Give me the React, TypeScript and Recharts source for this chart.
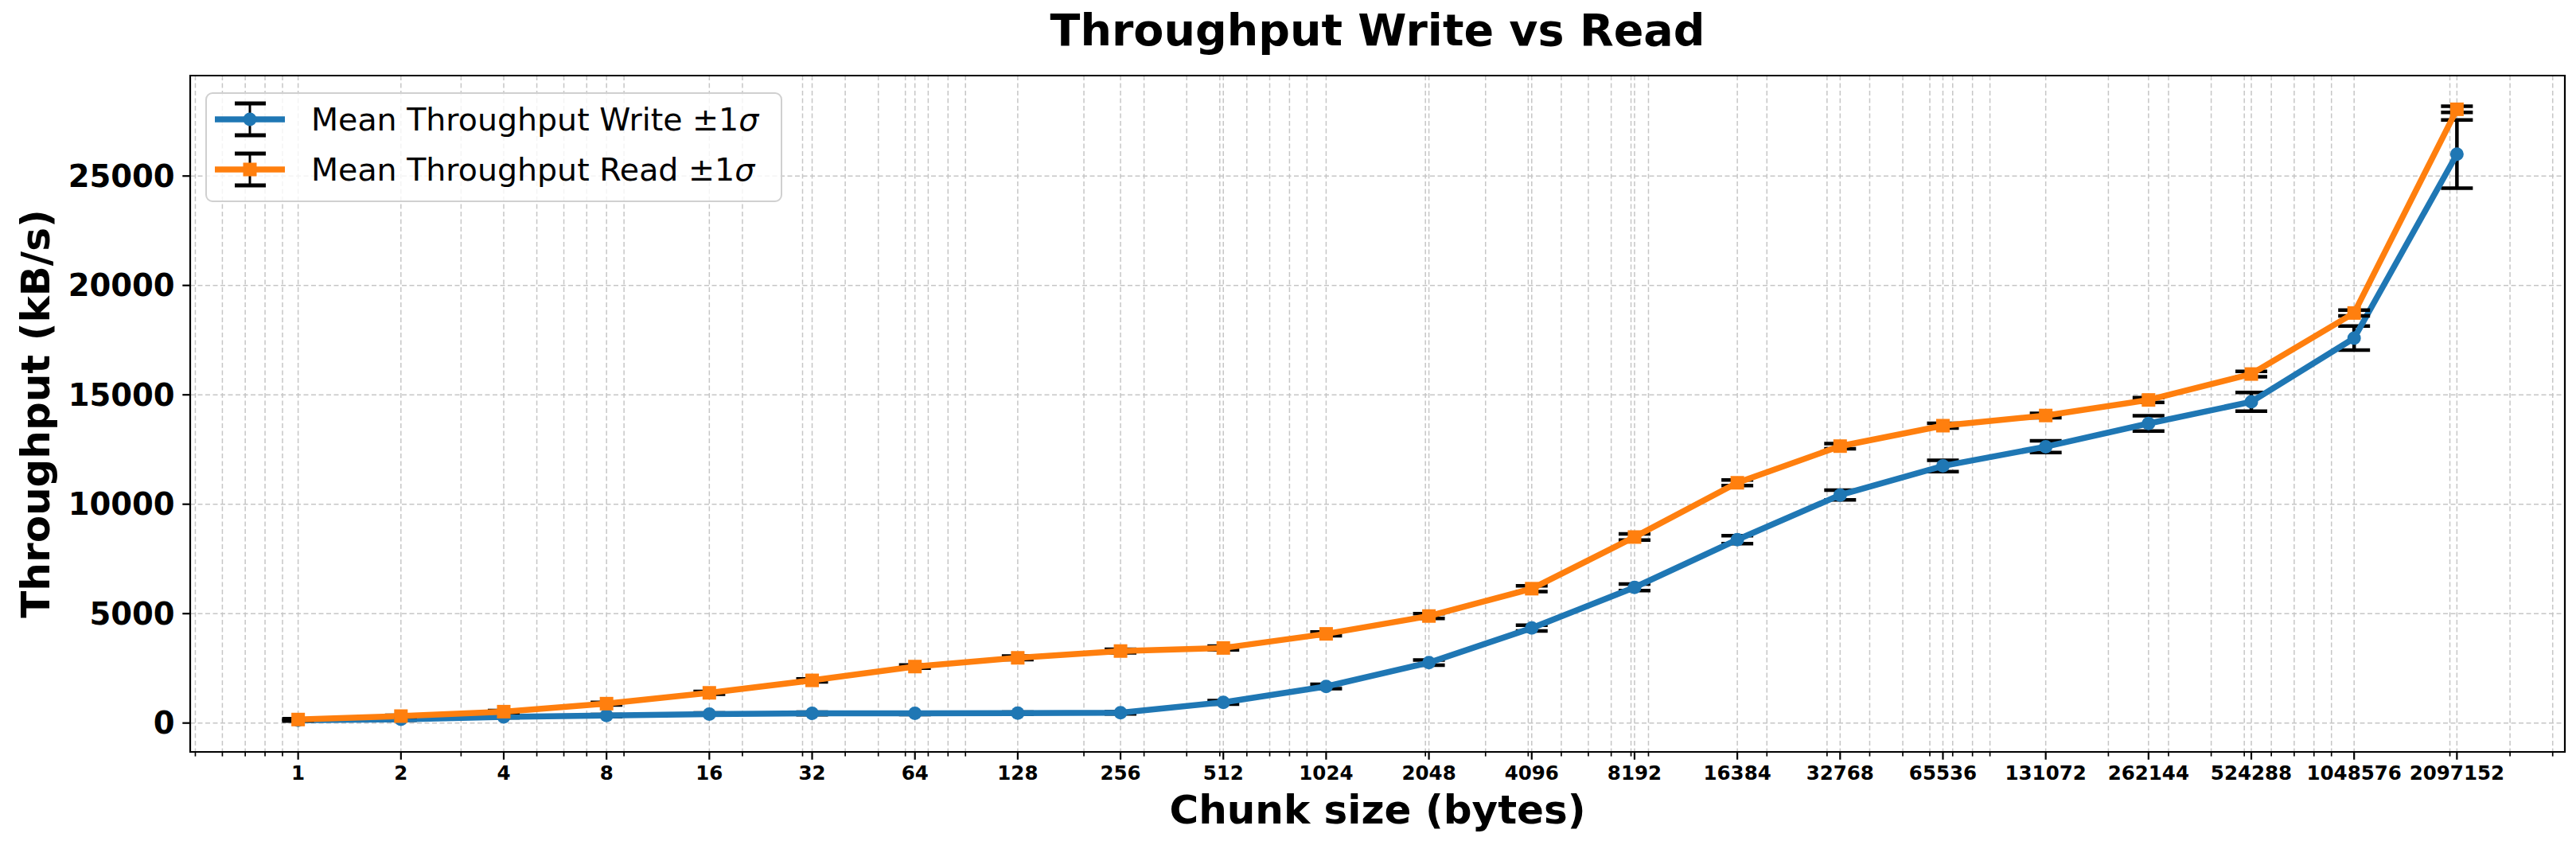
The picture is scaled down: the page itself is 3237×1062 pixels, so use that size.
import React from 'react';
import {
  LineChart,
  Line,
  XAxis,
  YAxis,
  CartesianGrid,
  ErrorBar,
  Legend,
  ReferenceArea,
} from 'recharts';

// ---------------- data ----------------
const CHUNK_SIZES = [
  1, 2, 4, 8, 16, 32, 64, 128, 256, 512, 1024, 2048, 4096, 8192, 16384, 32768,
  65536, 131072, 262144, 524288, 1048576, 2097152,
];
const WRITE_MEAN = [
  130, 170, 280, 340, 410, 440, 440, 450, 470, 945, 1670, 2760, 4340, 6200, 8380,
  10420, 11750, 12630, 13690, 14680, 17590, 26000,
];
const WRITE_STD = [
  45, 40, 40, 50, 50, 60, 50, 50, 50, 80, 100, 120, 130, 150, 180, 220, 260, 270,
  350, 425, 550, 1560,
];
const READ_MEAN = [
  160, 316, 520, 886, 1380, 1950, 2580, 2980, 3290, 3430, 4075, 4890, 6140, 8500,
  10980, 12655, 13590, 14055, 14765, 15950, 18740, 28050,
];
const READ_STD = [
  40, 40, 50, 60, 60, 70, 70, 80, 80, 90, 90, 110, 130, 140, 130, 120, 110, 100,
  110, 120, 130, 140,
];
const Y_TICKS = [0, 5000, 10000, 15000, 20000, 25000];
const MINOR_SUBS = [2, 3, 4, 5, 6, 7, 8, 9];
const DECADES = [0.1, 1, 10, 100, 1000, 10000, 100000, 1000000];

const SERIES = [
  { key: 'write', name: 'Mean Throughput Write ', color: '#1f77b4', marker: 'circle' },
  { key: 'read', name: 'Mean Throughput Read ', color: '#ff7f0e', marker: 'square' },
];

// ---------------- layout constants ----------------
const W = 3237;
const H = 1062;
const X_MIN = Math.pow(2, -1.05);
const X_MAX = Math.pow(2, 22.05);
const Y_MIN = -1320;
const Y_MAX = 29590;
const FONT = '"DejaVu Sans", "Liberation Sans", sans-serif';
const GRID = '#c6c6c6';

const rows = CHUNK_SIZES.map((size, i) => ({
  size,
  write: WRITE_MEAN[i],
  writeErr: WRITE_STD[i],
  read: READ_MEAN[i],
  readErr: READ_STD[i],
}));

const MAJOR_SET = new Set(CHUNK_SIZES);
const MINOR_TICKS: number[] = [];
DECADES.forEach((d) =>
  MINOR_SUBS.forEach((s) => {
    const v = s * d;
    if (v >= X_MIN && v <= X_MAX && !MAJOR_SET.has(Math.round(v * 1e6) / 1e6)) {
      MINOR_TICKS.push(v);
    }
  })
);
const X_TICKS = [...CHUNK_SIZES, ...MINOR_TICKS].sort((a, b) => a - b);

// ---------------- custom parts ----------------
const XTick = (props: any) => {
  const { x, y, payload } = props;
  const v = payload.value;
  const major = MAJOR_SET.has(v);
  return (
    <g>
      <line
        x1={x}
        x2={x}
        y1={y}
        y2={y + (major ? 9.7 : 5.6)}
        stroke="#000"
        strokeWidth={major ? 2.2 : 1.7}
      />
      {major && (
        <text
          x={x}
          y={y + 35}
          textAnchor="middle"
          fontFamily={FONT}
          fontWeight="bold"
          fontSize={24.5}
          fill="#000"
        >
          {String(v)}
        </text>
      )}
    </g>
  );
};

const SquareDot = (props: any) => {
  const { cx, cy, index } = props;
  if (cx == null || cy == null) return <g key={`sq-${index}`} />;
  return (
    <rect
      key={`sq-${index}`}
      x={cx - 8.5}
      y={cy - 8.5}
      width={17}
      height={17}
      fill="#ff7f0e"
    />
  );
};

const LegendBox = () => {
  const rowsY = [34, 97];
  return (
    <svg width={725} height={138} style={{ display: 'block', overflow: 'visible' }}>
      <rect
        x={1}
        y={1}
        width={723}
        height={136}
        rx={8}
        ry={8}
        fill="#ffffff"
        fillOpacity={0.8}
        stroke="#d0d0d0"
        strokeWidth={2}
      />
      {SERIES.map((s, i) => {
        const cy = rowsY[i];
        return (
          <g key={s.key}>
            <line x1={56} x2={56} y1={cy - 20} y2={cy + 20} stroke="#000" strokeWidth={3} />
            <line x1={37} x2={76} y1={cy - 20} y2={cy - 20} stroke="#000" strokeWidth={5} />
            <line x1={37} x2={76} y1={cy + 20} y2={cy + 20} stroke="#000" strokeWidth={5} />
            <line x1={12} x2={100} y1={cy} y2={cy} stroke={s.color} strokeWidth={7.5} />
            {s.marker === 'circle' ? (
              <circle cx={56} cy={cy} r={8.5} fill={s.color} />
            ) : (
              <rect x={47.5} y={cy - 8.5} width={17} height={17} fill={s.color} />
            )}
            <text
              x={133}
              y={cy + 13.5}
              fontFamily={FONT}
              fontSize={39.5}
              fill="#000"
            >
              {s.name}±1<tspan fontStyle="italic">σ</tspan>
            </text>
          </g>
        );
      })}
    </svg>
  );
};

export default function App() {
  return (
    <div
      style={{
        position: 'absolute',
        left: 0,
        top: 0,
        width: W,
        height: H,
        background: '#ffffff',
      }}
    >
      <LineChart
        width={W}
        height={H}
        data={rows}
        margin={{ top: 95, right: 14, bottom: 0, left: 0 }}
        style={{ fontFamily: FONT }}
      >
        <CartesianGrid
          stroke={GRID}
          strokeDasharray="6 3.5"
          strokeWidth={1.5}
        />
        <XAxis
          dataKey="size"
          type="number"
          scale="log"
          domain={[X_MIN, X_MAX]}
          allowDataOverflow
          ticks={X_TICKS}
          interval={0}
          tickSize={0}
          tickMargin={0}
          tickLine={false}
          axisLine={false}
          tick={<XTick />}
          height={117}
        />
        <YAxis
          type="number"
          domain={[Y_MIN, Y_MAX]}
          allowDataOverflow
          ticks={Y_TICKS}
          interval={0}
          width={239}
          tickSize={9.7}
          tickMargin={9.7}
          axisLine={false}
          tickLine={{ stroke: '#000', strokeWidth: 2.2 }}
          tick={{ fill: '#000', fontSize: 38.5, fontWeight: 'bold', fontFamily: FONT }}
        />
        <Line
          dataKey="write"
          name={SERIES[0].name}
          stroke={SERIES[0].color}
          strokeWidth={7.5}
          dot={{ r: 8.5, fill: SERIES[0].color, stroke: SERIES[0].color, strokeWidth: 0 }}
          activeDot={false}
          isAnimationActive={false}
        >
          <ErrorBar dataKey="writeErr" direction="y" width={20} stroke="#000" strokeWidth={4.5} />
        </Line>
        <Line
          dataKey="read"
          name={SERIES[1].name}
          stroke={SERIES[1].color}
          strokeWidth={7.5}
          dot={<SquareDot />}
          activeDot={false}
          isAnimationActive={false}
        >
          <ErrorBar dataKey="readErr" direction="y" width={20} stroke="#000" strokeWidth={4.5} />
        </Line>
        <ReferenceArea
          x1={X_MIN}
          x2={X_MAX}
          y1={Y_MIN}
          y2={Y_MAX}
          fill="none"
          fillOpacity={0}
          stroke="#000"
          strokeWidth={2.2}
          ifOverflow="visible"
        />
        <Legend
          layout="vertical"
          align="center"
          verticalAlign="middle"
          content={<LegendBox />}
          wrapperStyle={{ left: 258, top: 116, width: 725, height: 138 }}
        />
        <text
          x={1731}
          y={57}
          textAnchor="middle"
          fontFamily={FONT}
          fontWeight="bold"
          fontSize={55.5}
          fill="#000"
        >
          Throughput Write vs Read
        </text>
        <text
          x={1731}
          y={1035}
          textAnchor="middle"
          fontFamily={FONT}
          fontWeight="bold"
          fontSize={50}
          fill="#000"
        >
          Chunk size (bytes)
        </text>
        <text
          x={62}
          y={520}
          transform="rotate(-90 62 520)"
          textAnchor="middle"
          fontFamily={FONT}
          fontWeight="bold"
          fontSize={50}
          fill="#000"
        >
          Throughput (kB/s)
        </text>
      </LineChart>
    </div>
  );
}
